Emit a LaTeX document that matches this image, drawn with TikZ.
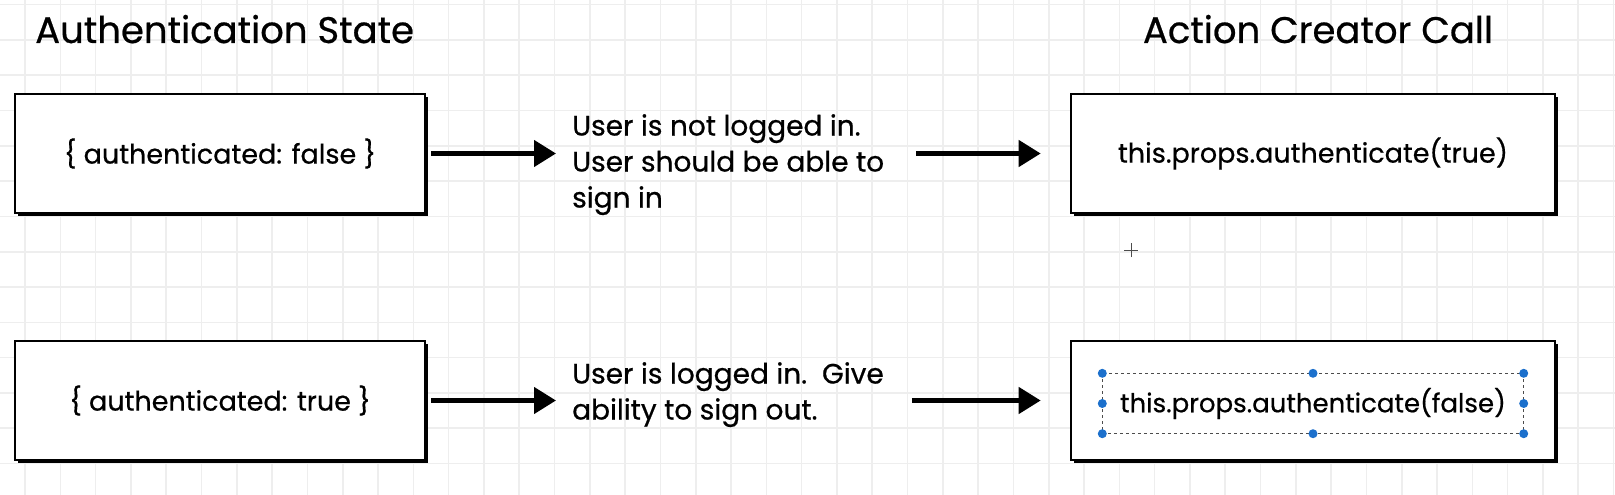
\documentclass[tikz,border=0pt]{standalone}
\usepackage{fontspec}
\setmainfont{Poppins}[FakeBold=0.6,AutoFakeBold=0.6]
\usetikzlibrary{arrows.meta,shadows,calc}
\definecolor{gridc}{RGB}{238,238,238}
\definecolor{selblue}{RGB}{28,112,204}
\begin{document}
\begin{tikzpicture}[x=1pt,y=-1pt,
  box/.style={draw=black,line width=2.6pt,fill=white,inner sep=0pt,
    minimum height=119pt,
    general shadow={fill=black,shadow xshift=3pt,shadow yshift=-3pt},
    font=\fontsize{27}{32}\selectfont\bfseries},
  title/.style={inner sep=0pt,font=\fontsize{37}{40}\selectfont\bfseries},
  desc/.style={inner sep=0pt,align=left,font=\fontsize{28}{36}\selectfont\bfseries},
  arr/.style={line width=4.5pt,-{Triangle[length=22pt,width=26pt]}},
  handle/.style={circle,fill=selblue,inner sep=0pt,minimum size=9pt},
  sel/.style={draw=black!70,line width=0.9pt,dash pattern=on 3pt off 3pt}]
\useasboundingbox (0,0) rectangle (1615,495);
\fill[white] (0,0) rectangle (1615,495);
\foreach \i in {0,...,45} \draw[gridc,line width=1.6pt] ({25+35.3*\i},0) -- ({25+35.3*\i},495);
\foreach \j in {0,...,14} \draw[gridc,line width=1.6pt] (0,{4.6+35.3*\j}) -- (1615,{4.6+35.3*\j});

\node[title,anchor=base west] (t1) at (35,43) {Authentication State};
\node[title,anchor=base] (t2) at (1318,43) {Action Creator Call};

\node[box,minimum width=410pt] (b1) at (220,153.5) {\{ authenticated: false \}};
\node[box,minimum width=484pt] (b2) at (1313,153.5) {this.props.authenticate(true)};
\node[box,minimum width=410pt] (b3) at (220,400.5) {\{ authenticated: true \}};
\node[box,minimum width=484pt] (b4) at (1313,400.5) {};

\node[desc,anchor=north west] (d1) at (572,114) {User is not logged in.\\User should be able to\\sign in};
\node[desc,anchor=north west] (d2) at (572,362) {User is logged in.\ \ Give\\ability to sign out.};

\node[inner sep=0pt,minimum width=421pt,minimum height=60pt,yshift=-3pt,font=\fontsize{26}{30}\selectfont\bfseries] (s) at (b4.center) {this.props.authenticate(false)};
\draw[sel] (s.north west) rectangle (s.south east);
\foreach \a in {north west,north,north east,east,south east,south,south west,west}
  \node[handle] at (s.\a) {};

\draw[arr,shorten <=5pt,shorten >=16pt] (b1.east) -- (b1.east -| d1.west);
\draw[arr,shorten <=5pt,shorten >=16pt] (b3.east) -- (b3.east -| d2.west);
\draw[arr,shorten <=32pt,shorten >=29pt] (b1.east -| d1.east) -- (b2.west);
\draw[arr,shorten <=28pt,shorten >=29pt] (b3.east -| d2.east) -- (b4.west);

\coordinate (cur) at (1131,250);
\draw[black!70,line width=1pt] ([xshift=-7pt]cur) -- ([xshift=7pt]cur) ([yshift=-7pt]cur) -- ([yshift=7pt]cur);
\end{tikzpicture}
\end{document}
